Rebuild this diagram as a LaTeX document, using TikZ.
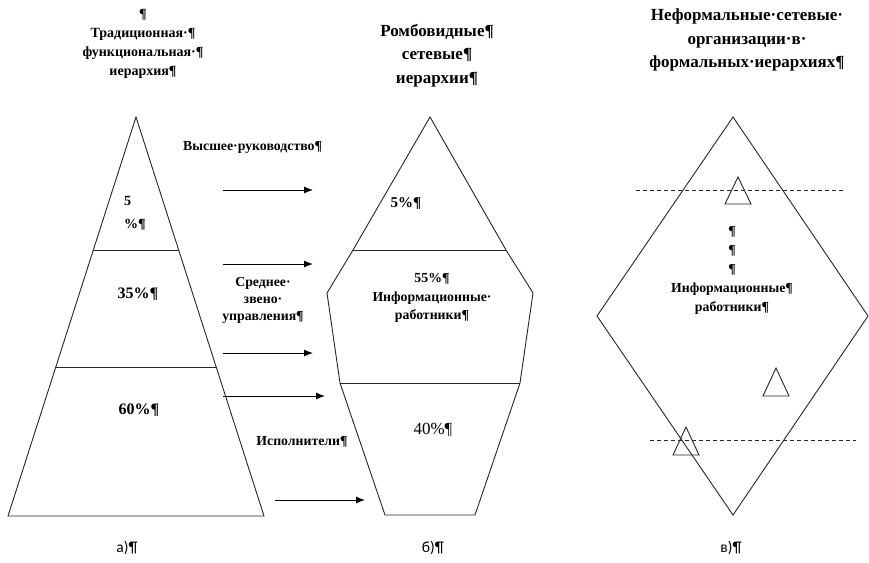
\documentclass[tikz,border=0pt]{standalone}
\usepackage{fontspec}
\setmainfont{Liberation Serif}
\newfontfamily\labfont{Carlito}
\usetikzlibrary{arrows.meta}
\begin{document}
\begin{tikzpicture}[x=1pt,y=-1pt,
  outline/.style={draw=black!85, line width=0.9pt},
  dline/.style={draw=black!85, line width=0.8pt, dash pattern=on 4pt off 3pt},
  lbl/.style={font=\bfseries\fontsize{13.8}{18.5}\selectfont, align=center, inner sep=0pt},
  pct/.style={font=\bfseries\fontsize{16}{20}\selectfont, inner sep=0pt},
  ttl/.style={font=\bfseries\fontsize{17}{23.5}\selectfont, align=center, inner sep=0pt},
  arr/.style={-{Latex[length=9pt,width=7pt]}, line width=1pt},
  capt/.style={font=\labfont\fontsize{15.5}{18}\selectfont, inner sep=0pt}]
\useasboundingbox (0,0) rectangle (869,562);

% titles
\node[lbl, font=\bfseries\fontsize{14}{19}\selectfont] (t1) at (143,44) {¶\\Традиционная·¶\\функциональная·¶\\иерархия¶};
\node[ttl] (t2) at (437,55.5) {Ромбовидные¶\\сетевые¶\\иерархии¶};
\node[ttl] (t3) at (747,40) {Неформальные·сетевые·\\организации·в·\\формальных·иерархиях¶};

% a) triangle
\draw[outline] (136,117) -- (264,516) -- (8,516) -- cycle;
\draw[outline] (93.3,250) -- (178.7,250);
\draw[outline] (55.8,367) -- (216.2,367);
\node[lbl, align=left, anchor=north west, font=\bfseries\fontsize{14}{23}\selectfont] (p5) at (124,196) {5\\\%¶};
\node[pct] (p35) at (138,294) {35\%¶};
\node[pct] (p60) at (139,410) {60\%¶};

% arrows and labels
\node[lbl, anchor=west] (top) at (183,147) {Высшее·руководство¶};
\node[lbl, font=\bfseries\fontsize{13.8}{17}\selectfont] (mid) at (263,300) {Среднее·\\звено·\\управления¶};
\node[lbl] (bot) at (302,442) {Исполнители¶};
\coordinate (a1s) at (223,190); \coordinate (a1e) at (313,190);
\coordinate (a2s) at (223,264); \coordinate (a2e) at (313,264);
\coordinate (a3s) at (223,353); \coordinate (a3e) at (313,353);
\coordinate (a4s) at (223,396); \coordinate (a4e) at (325,396);
\coordinate (a5s) at (275,500); \coordinate (a5e) at (365,500);
\draw[arr] (a1s) -- (a1e);
\draw[arr] (a2s) -- (a2e);
\draw[arr] (a3s) -- (a3e);
\draw[arr] (a4s) -- (a4e);
\draw[arr] (a5s) -- (a5e);

% b) rhombic shape
\draw[outline] (430,117) -- (506,250) -- (533,293) -- (520,383) -- (475,515) -- (385,515) -- (340,383) -- (327,293) -- (353,250) -- cycle;
\draw[outline] (353,250) -- (506,250);
\draw[outline] (340,383) -- (520,383);
\node[pct, font=\bfseries\fontsize{15}{20}\selectfont] (q5) at (406,203) {5\%¶};
\node[lbl] (q55) at (432,298) {55\%¶\\Информационные·\\работники¶};
\node[lbl, font=\fontsize{17}{20}\selectfont] (q40) at (433,430) {40\%¶};

% c) diamond
\draw[outline] (733,117) -- (868,316) -- (733,515) -- (597,316) -- cycle;
\draw[dline] (636,190) -- (845,190);
\draw[dline] (650,440) -- (856,440);
\draw[outline] (738,177) -- (751,204) -- (725,204) -- cycle;
\draw[outline] (776,368) -- (789,396) -- (763,396) -- cycle;
\draw[outline] (686,427) -- (699,455) -- (673,455) -- cycle;
\node[lbl, font=\bfseries\fontsize{13.8}{19}\selectfont] (r) at (732,270) {¶\\¶\\¶\\Информационные¶\\работники¶};

% captions
\node[capt] (ca) at (127,548) {а)¶};
\node[capt] (cb) at (433,548) {б)¶};
\node[capt] (cc) at (731,548) {в)¶};
\end{tikzpicture}
\end{document}
